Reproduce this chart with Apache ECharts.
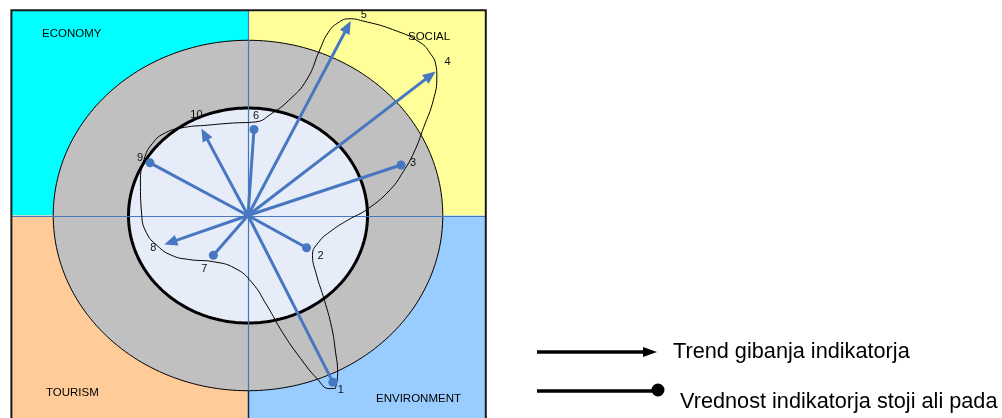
<!DOCTYPE html>
<html><head><meta charset="utf-8">
<script src="https://cdn.jsdelivr.net/npm/echarts@6/dist/echarts.min.js"></script>
<style>html,body{margin:0;padding:0;background:#fff}#c{width:1002px;height:418px}</style>
</head><body><div id="c"></div>
<script>
// ---- data ----
const indicatorIds = ['1','2','3','4','5','6','7','8','9','10'];
const indicatorX = [0.71, 0.49, 1.28, 1.57, 0.86, 0.05, -0.29, -0.70, -0.82, -0.39];
const indicatorY = [-1.55, -0.30, 0.47, 1.34, 1.81, 0.80, -0.37, -0.27, 0.49, 0.81];
const indicatorType = ['dot','dot','dot','arrow','arrow','dot','dot','arrow','dot','arrow'];
const curveX = [0.73,0.75,0.73,0.70,0.64,0.57,0.54,0.59,0.70,0.84,1.00,1.19,1.30,1.39,1.47,1.55,1.58,1.57,1.53,1.44,1.21,0.96,0.85,0.75,0.67,0.60,0.49,0.34,0.20,0.06,-0.13,-0.34,-0.53,-0.69,-0.80,-0.87,-0.90,-0.89,-0.85,-0.76,-0.64,-0.49,-0.29,-0.11,0.03,0.16,0.29,0.44,0.58,0.68,0.73];
const curveY = [-1.61,-1.47,-1.25,-1.04,-0.79,-0.54,-0.37,-0.25,-0.14,-0.04,0.06,0.24,0.41,0.59,0.82,1.07,1.29,1.41,1.50,1.61,1.73,1.81,1.83,1.79,1.70,1.54,1.26,1.07,0.95,0.87,0.86,0.84,0.82,0.77,0.67,0.52,0.31,0.01,-0.16,-0.28,-0.37,-0.41,-0.43,-0.49,-0.62,-0.84,-1.09,-1.33,-1.52,-1.61,-1.61];
const zoneRadii = [1.63, 1.0];
const quadrantNames = ['ECONOMY','SOCIAL','TOURISM','ENVIRONMENT'];
const frameX = [-1.98, 0, 1.99];
const frameY = [1.91, 0, -1.92];
const legendTexts = ['Trend gibanja indikatorja', 'Vrednost indikatorja stoji ali pada'];

// ---- styles / layout ----
const quadrantColors = ['#00FFFF', '#FFFF99', '#FFCC99', '#99CCFF'];
const zoneFill = ['#C0C0C0', '#E6EDF8'];
const zoneStroke = [1, 3];
const BLUE = '#4877C2';
const labelOffsets = [[8,8],[14,8],[12,-2],[12,-9],[13,-6],[2,-14],[-9,14],[-11,3],[-10,-5],[-5,-13]];
const FONT = '"Liberation Sans", Arial, sans-serif';

const quadData = [
  [frameX[0], frameX[1], frameY[1], frameY[0]],
  [frameX[1], frameX[2], frameY[1], frameY[0]],
  [frameX[0], frameX[1], frameY[2], frameY[1]],
  [frameX[1], frameX[2], frameY[2], frameY[1]]
];

const chart = echarts.init(document.getElementById('c'), null, {renderer: 'canvas'});
const option = {
  animation: false,
  grid: {left: 9, width: 478, top: 0.5, height: 417.1},
  xAxis: {type: 'value', min: -2, max: 2, show: false},
  yAxis: {type: 'value', min: -1.88, max: 2, show: false},
  series: [
    { // quadrants
      type: 'custom', z: 1, silent: true,
      data: quadData,
      renderItem: (params, api) => {
        const p0 = api.coord([api.value(0), api.value(3)]);
        const p1 = api.coord([api.value(1), api.value(2)]);
        const i = params.dataIndex;
        return {type: 'rect', shape: {x: p0[0], y: p0[1], width: p1[0]-p0[0], height: p1[1]-p0[1]},
           style: {fill: quadrantColors[i]}};
      }
    },
    { // zones
      type: 'custom', z: 2, silent: true,
      data: zoneRadii.map(r => [0, 0, r]),
      renderItem: (params, api) => {
        const r = api.value(2);
        const pts = [];
        for (let k = 0; k < 240; k++) {
          const t = k / 240 * Math.PI * 2;
          pts.push(api.coord([r * Math.cos(t), r * Math.sin(t)]));
        }
        const i = params.dataIndex;
        return {type: 'polygon', shape: {points: pts},
          style: {fill: zoneFill[i], stroke: '#000', lineWidth: zoneStroke[i]}};
      }
    },
    { // frame + crosshair
      type: 'custom', z: 3, silent: true,
      data: [[0, 0]],
      renderItem: (params, api) => {
        const tl = api.coord([frameX[0], frameY[0]]);
        const br = api.coord([frameX[2], frameY[2]]);
        const c = api.coord([0, 0]);
        const cy = Math.round(c[1]) + 0.5, cx = Math.round(c[0]) + 0.5;
        const ob = api.coord([0, -zoneRadii[0]]);
        return {type: 'group', children: [
          {type: 'line', shape: {x1: tl[0], y1: cy, x2: br[0], y2: cy}, style: {stroke: BLUE, lineWidth: 1.2}},
          {type: 'line', shape: {x1: cx, y1: tl[1], x2: cx, y2: ob[1]}, style: {stroke: BLUE, lineWidth: 1.2}},
          {type: 'line', shape: {x1: cx, y1: ob[1], x2: cx, y2: br[1]}, style: {stroke: '#1a2a44', lineWidth: 1.5}},
          {type: 'rect', shape: {x: tl[0], y: tl[1], width: br[0]-tl[0], height: br[1]-tl[1]},
           style: {fill: null, stroke: '#1a1a1a', lineWidth: 2}}
        ]};
      }
    },
    { // closed trend curve
      type: 'line', z: 4, silent: true, smooth: 0.5, showSymbol: false, clip: false,
      data: curveX.map((x, i) => [x, curveY[i]]),
      lineStyle: {color: '#000', width: 1}
    },
    { // arrows & dots
      type: 'custom', z: 5, silent: true,
      data: indicatorX.map((x, i) => [x, indicatorY[i], i]),
      renderItem: (params, api) => {
        const i = params.dataIndex;
        const c = api.coord([0, 0]);
        const t = api.coord([api.value(0), api.value(1)]);
        const dx = t[0]-c[0], dy = t[1]-c[1];
        const L = Math.sqrt(dx*dx + dy*dy);
        const ux = dx/L, uy = dy/L, px = -uy, py = ux;
        const ch = [];
        const off = labelOffsets[i];
        if (indicatorType[i] === 'arrow') {
          const hl = 13, hw = 5.5;
          const bx = t[0]-ux*hl, by = t[1]-uy*hl;
          ch.push({type: 'line', shape: {x1: c[0], y1: c[1], x2: bx+ux*2, y2: by+uy*2}, style: {stroke: BLUE, lineWidth: 3}});
          ch.push({type: 'polygon', shape: {points: [[t[0], t[1]], [bx+px*hw, by+py*hw], [bx-px*hw, by-py*hw]]}, style: {fill: BLUE}});
        } else {
          ch.push({type: 'line', shape: {x1: c[0], y1: c[1], x2: t[0], y2: t[1]}, style: {stroke: BLUE, lineWidth: 3}});
          ch.push({type: 'circle', shape: {cx: t[0], cy: t[1], r: 4.5}, style: {fill: BLUE}});
        }
        ch.push({type: 'text', x: t[0]+off[0], y: t[1]+off[1],
          style: {text: indicatorIds[api.value(2)], fill: '#111', font: '11px ' + FONT, align: 'center', verticalAlign: 'middle'}});
        return {type: 'group', children: ch};
      }
    }
  ],
  graphic: [
    {type: 'text', left: 42, top: 28, z: 10, style: {text: quadrantNames[0], font: '11.5px ' + FONT, fill: '#000'}},
    {type: 'text', left: 408, top: 31, z: 10, style: {text: quadrantNames[1], font: '11.5px ' + FONT, fill: '#000'}},
    {type: 'text', left: 46, top: 387, z: 10, style: {text: quadrantNames[2], font: '11.5px ' + FONT, fill: '#000'}},
    {type: 'text', left: 376, top: 393, z: 10, style: {text: quadrantNames[3], font: '11.5px ' + FONT, fill: '#000'}},
    {type: 'line', z: 10, shape: {x1: 537, y1: 352, x2: 646, y2: 352}, style: {stroke: '#000', lineWidth: 3.5}},
    {type: 'polygon', z: 10, shape: {points: [[643, 347], [657, 352], [643, 357]]}, style: {fill: '#000'}},
    {type: 'text', z: 10, x: 673, y: 352, style: {text: legendTexts[0], font: '21.7px ' + FONT, fill: '#000', verticalAlign: 'middle'}},
    {type: 'line', z: 10, shape: {x1: 537, y1: 391, x2: 655, y2: 391}, style: {stroke: '#000', lineWidth: 3.5}},
    {type: 'circle', z: 10, shape: {cx: 658, cy: 390, r: 6.5}, style: {fill: '#000'}},
    {type: 'text', z: 10, x: 680, y: 402, style: {text: legendTexts[1], font: '21.7px ' + FONT, fill: '#000', verticalAlign: 'middle'}}
  ]
};
chart.setOption(option);
</script>
</body></html>
